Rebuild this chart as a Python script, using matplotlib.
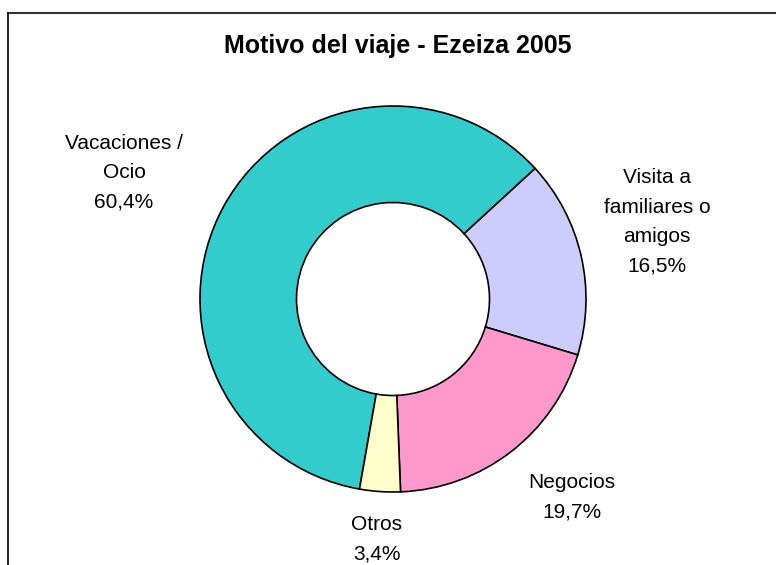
import matplotlib
matplotlib.use("Agg")
import matplotlib.pyplot as plt
from matplotlib.lines import Line2D

plt.rcParams['font.family'] = ['Liberation Sans', 'DejaVu Sans']

# ---- data ----
categories = ["Vacaciones /\nOcio", "Visita a\nfamiliares o\namigos", "Negocios", "Otros"]
values = [60.4, 16.5, 19.7, 3.4]
pct_labels = ["60,4%", "16,5%", "19,7%", "3,4%"]
colors = ["#33CCCC", "#CCCCFF", "#FF99CC", "#FFFFCC"]
title = "Motivo del viaje - Ezeiza 2005"

W, H = 776, 565
fig = plt.figure(figsize=(W / 100, H / 100), dpi=100)
fig.patch.set_facecolor("white")

# pie axes: center (393, 299) px, radius 193 px
cx, cy, r = 393, 299, 193
ax = fig.add_axes([(cx - r) / W, (H - cy - r) / H, 2 * r / W, 2 * r / H])
ax.pie(values, colors=colors, startangle=-100, counterclock=False, radius=1.0,
       wedgeprops=dict(width=0.5, edgecolor="black", linewidth=1.2))
ax.set_xlim(-1, 1)
ax.set_ylim(-1, 1)
ax.axis("off")

# labels (layout positions in pixels)
label_pos = [(124, 173), (657, 222), (572, 497), (377, 539)]
for cat, pct, (lx, ly) in zip(categories, pct_labels, label_pos):
    fig.text(lx / W, 1 - ly / H, cat + "\n" + pct, ha="center", va="center",
             fontsize=15, linespacing=1.7, color="black")

fig.text(398 / W, 1 - 53.3 / H, title, ha="center", va="baseline",
         fontsize=18, fontweight="bold", color="black")

# chart frame (top and left edges visible)
fig.add_artist(Line2D([8 / W, 1], [1 - 13 / H, 1 - 13 / H], transform=fig.transFigure,
                      color="#333333", linewidth=1.5))
fig.add_artist(Line2D([8 / W, 8 / W], [0, 1 - 13 / H], transform=fig.transFigure,
                      color="black", linewidth=1.2))

fig.savefig("out.png", dpi=100, facecolor="white")
